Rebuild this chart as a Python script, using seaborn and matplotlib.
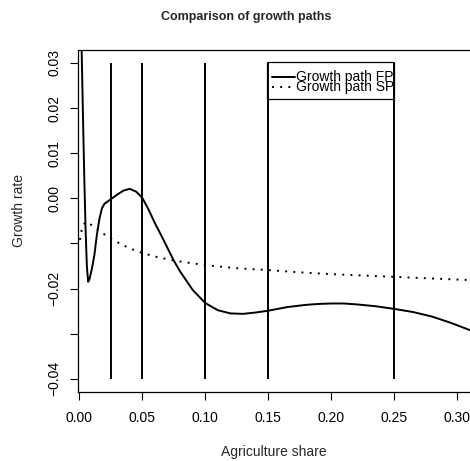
import numpy as np
import pandas as pd
import matplotlib
matplotlib.use("Agg")
import matplotlib.pyplot as plt
import seaborn as sns
from matplotlib.patches import Rectangle
from matplotlib.lines import Line2D

# ---------------- data ----------------
fp_x = [0.0010, 0.0020, 0.0030, 0.0040, 0.0050, 0.0060, 0.0070, 0.0080, 0.0090,
        0.0100, 0.0120, 0.0140, 0.0160, 0.0180, 0.0200, 0.0230, 0.0260, 0.0300,
        0.0350, 0.0400, 0.0450, 0.0500, 0.0550, 0.0600, 0.0650, 0.0700, 0.0750,
        0.0800, 0.0900, 0.1000, 0.1100, 0.1200, 0.1300, 0.1400, 0.1500, 0.1650,
        0.1800, 0.1900, 0.2000, 0.2100, 0.2200, 0.2350, 0.2500, 0.2650, 0.2800,
        0.2950, 0.3100, 0.3200]
fp_y = [0.0450, 0.0310, 0.0170, 0.0040, -0.0070, -0.0150, -0.0185, -0.0180, -0.0168,
        -0.0156, -0.0125, -0.0080, -0.0045, -0.0022, -0.0012, -0.0006, 0.0000, 0.0008,
        0.0017, 0.0021, 0.0015, 0.0001, -0.0025, -0.0055, -0.0082, -0.0110, -0.0138,
        -0.0162, -0.0203, -0.0232, -0.0248, -0.0255, -0.0256, -0.0253, -0.0249, -0.0241,
        -0.0236, -0.0234, -0.0233, -0.0233, -0.0235, -0.0239, -0.0245, -0.0252, -0.0262,
        -0.0276, -0.0292, -0.0303]

sp_x = [0.0005, 0.0015, 0.0030, 0.0060, 0.0100, 0.0150, 0.0200, 0.0250, 0.0300,
        0.0350, 0.0400, 0.0500, 0.0600, 0.0700, 0.0800, 0.0900, 0.1000, 0.1250,
        0.1500, 0.1750, 0.2000, 0.2250, 0.2500, 0.2750, 0.3000, 0.3200]
sp_y = [-0.0092, -0.0075, -0.0058, -0.0052, -0.0060, -0.0070, -0.0080, -0.0089, -0.0097,
        -0.0104, -0.0111, -0.0121, -0.0129, -0.0135, -0.0140, -0.0144, -0.0148, -0.0155,
        -0.0159, -0.0164, -0.0168, -0.0171, -0.0174, -0.0177, -0.0180, -0.0182]

vline_x = [0.025, 0.05, 0.10, 0.15, 0.25]
vline_range = [-0.04, 0.03]

x_ticks = [0.00, 0.05, 0.10, 0.15, 0.20, 0.25, 0.30]
x_ticklabels = ["0.00", "0.05", "0.10", "0.15", "0.20", "0.25", "0.30"]
y_ticks = [-0.04, -0.03, -0.02, -0.01, 0.00, 0.01, 0.02, 0.03]
y_ticklabels = ["\u22120.04", "", "\u22120.02", "", "0.00", "0.01", "0.02", "0.03"]

series_names = ["Growth path FP", "Growth path SP"]
title = "Comparison of growth paths"
xlabel = "Agriculture share"
ylabel = "Growth rate"

# ---------------- figure ----------------
sns.set_style("white")
plt.rcParams["font.family"] = ["Liberation Sans", "DejaVu Sans"]

W, H = 470, 461
fig = plt.figure(figsize=(W / 100, H / 100), dpi=100)
L, R, T, B = 77.5, 470.0, 50.3, 392.0
ax = fig.add_axes([L / W, 1 - B / H, (R - L) / W, (B - T) / H])

df_fp = pd.DataFrame({"x": fp_x, "y": fp_y})
df_sp = pd.DataFrame({"x": sp_x, "y": sp_y})

sns.lineplot(data=df_fp, x="x", y="y", ax=ax, color="black", lw=1.4,
             estimator=None, sort=False)
sns.lineplot(data=df_sp, x="x", y="y", ax=ax, color="black", lw=1.4,
             estimator=None, sort=False, linestyle=(0, (1, 3.2)))
ax.vlines(vline_x, vline_range[0], vline_range[1], color="black", lw=1.4)

ax.set_xlim(-0.00143, 0.3101)
ax.set_ylim(-0.04291, 0.03279)

ax.set_xticks(x_ticks)
ax.set_xticklabels(x_ticklabels)
ax.set_yticks(y_ticks)
ax.set_yticklabels(y_ticklabels, rotation=90, va="center")

ax.tick_params(axis="both", which="major", bottom=True, left=True,
               direction="out", length=5.8, width=0.8,
               color="black", labelsize=10, labelcolor="black")
ax.tick_params(axis="x", pad=8.0)
ax.tick_params(axis="y", pad=6.0)
ax.set_xlabel("")
ax.set_ylabel("")

for s in ["left", "top", "bottom"]:
    ax.spines[s].set_visible(True)
    ax.spines[s].set_color("black")
    ax.spines[s].set_linewidth(0.9)
ax.spines["right"].set_visible(False)

# legend (R-style box)
lx0, lx1 = (267.3 - L) / (R - L), (393.5 - L) / (R - L)
ly0, ly1 = (B - 99.3) / (B - T), (B - 62.3) / (B - T)
ax.add_patch(Rectangle((lx0, ly0), lx1 - lx0, ly1 - ly0, transform=ax.transAxes,
                       fill=False, edgecolor="black", lw=0.9, clip_on=False))
sx0, sx1 = (271.7 - L) / (R - L), (295.0 - L) / (R - L)
rows = [(B - 76.7) / (B - T), (B - 87.3) / (B - T)]
styles = ["-", (0, (1, 3.2))]
tx = (296.0 - L) / (R - L)
for name, yy, ls in zip(series_names, rows, styles):
    ax.add_line(Line2D([sx0, sx1], [yy, yy], transform=ax.transAxes, color="black",
                       lw=1.4, linestyle=ls, clip_on=False))
    ax.text(tx, yy, name, transform=ax.transAxes, ha="left", va="center",
            fontsize=10, color="black")

fig.text(246 / W, 1 - 17 / H, title, ha="center", va="center",
         fontsize=9, fontweight="bold")
fig.text(274 / W, 1 - 452 / H, xlabel, ha="center", va="center", fontsize=10)
fig.text(19 / W, 1 - 210 / H, ylabel, ha="center", va="center", fontsize=10,
         rotation=90)

fig.savefig("out.png", dpi=100)
